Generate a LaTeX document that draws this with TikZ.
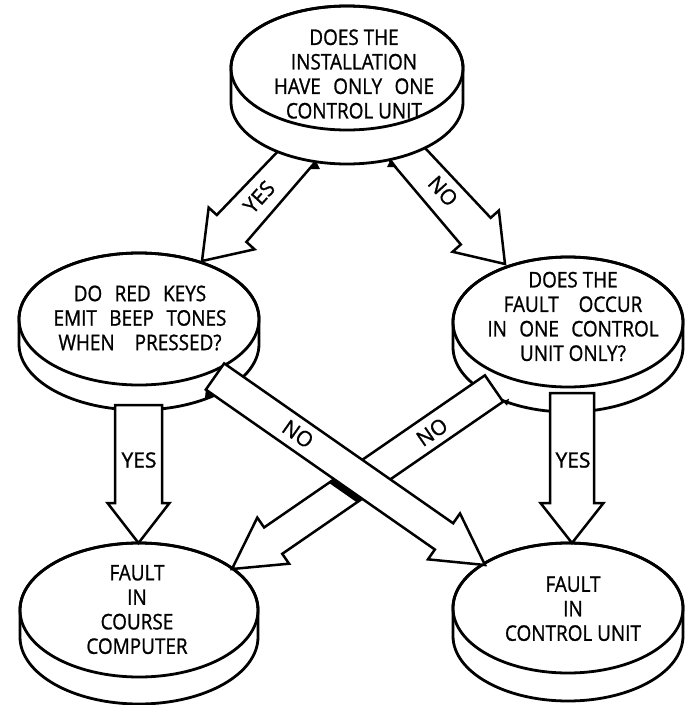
\documentclass[tikz,border=0pt]{standalone}
\usepackage{fontspec}
\setmainfont{Open Sans}[FakeStretch=0.88, FakeBold=1.0]
\newfontfamily\lblfont{Open Sans}[FakeBold=1.2]
\usetikzlibrary{calc}
\tikzset{
  discline/.style={line width=2.8pt, line join=round},
  barrow/.style={line width=2.5pt, fill=white, line join=miter, miter limit=6},
  disctext/.style={align=center, font=\fontsize{21.5}{24.5}\selectfont, inner sep=0pt},
  lbl/.style={font=\lblfont\fontsize{21}{21}\selectfont, inner sep=0pt},
  shadow/.style={fill=black},
}
% #1 name, #2 start, #3 tip, #4 half shaft at head, #5 half head, #6 head length, #7 half shaft at start
\newcommand\defarrow[7]{%
  \coordinate (#1-t) at (#3);
  \coordinate (#1-b) at ($(#3)!#6!(#2)$);
  \coordinate (#1-sl) at ($(#2)!#7!90:(#3)$);
  \coordinate (#1-sr) at ($(#2)!#7!-90:(#3)$);
  \coordinate (#1-bl) at ($(#1-b)!#4!90:(#3)$);
  \coordinate (#1-br) at ($(#1-b)!#4!-90:(#3)$);
  \coordinate (#1-hl) at ($(#1-b)!#5!90:(#3)$);
  \coordinate (#1-hr) at ($(#1-b)!#5!-90:(#3)$);
}
\newcommand\arrowpath[1]{(#1-sl) -- (#1-bl) -- (#1-hl) -- (#1-t) -- (#1-hr) -- (#1-br) -- (#1-sr) -- cycle}
% cx, cy, rx, ry, thickness
\newcommand\drawdisc[5]{%
  \filldraw[discline, fill=white] (#1-#3,#2) -- (#1-#3,#2+#5)
    arc[start angle=180, end angle=360, x radius=#3pt, y radius=#4pt]
    -- (#1+#3,#2)
    arc[start angle=0, end angle=180, x radius=#3pt, y radius=#4pt] -- cycle;
  \draw[discline] (#1,#2) ellipse[x radius=#3pt, y radius=#4pt];
}
\newcommand\wsp{\hspace{0.35em}}
\begin{document}
\begin{tikzpicture}[x=1pt,y=-1pt]
\useasboundingbox (0,0) rectangle (686,705);
\fill[white] (0,0) rectangle (686,705);

% lower discs
\drawdisc{139}{319}{120}{66}{25}
\drawdisc{568}{322}{115}{65}{25}
\drawdisc{139}{610}{119}{67}{27}
\drawdisc{568}{608}{115}{65}{28}

% arrow end points
\coordinate (yesS) at (333,117);   \coordinate (yesE) at (202,261);
\coordinate (noS)  at (374,117);   \coordinate (noE)  at (505,264);
\coordinate (ylS)  at (138.5,405); \coordinate (ylE)  at (138.5,543);
\coordinate (yrS)  at (572,393);   \coordinate (yrE)  at (572,543);
\coordinate (aS)   at (215,376.5); \coordinate (aE)   at (485,565);
\coordinate (bS)   at (494,388.5); \coordinate (bE)   at (232,569);

\defarrow{Y1}{yesS}{yesE}{20pt}{31pt}{44pt}{16pt}
\defarrow{N1}{noS}{noE}{20pt}{31pt}{44pt}{16pt}
\defarrow{Y2}{ylS}{ylE}{23.5pt}{31pt}{40pt}{23.5pt}
\defarrow{Y3}{yrS}{yrE}{22pt}{31.5pt}{40pt}{22pt}
\defarrow{A}{aS}{aE}{16pt}{28pt}{50pt}{16pt}
\defarrow{B}{bS}{bE}{16pt}{28pt}{50pt}{16pt}

% crossing NO arrows: B below A
\draw[barrow] \arrowpath{B};
\begin{scope}
  \clip \arrowpath{B};
  \draw[line width=12pt] (A-sr) -- (A-br);
\end{scope}
\draw[barrow] \arrowpath{A};
\fill[shadow] (A-sr) -- ($(A-sr)+(-1,10)$) -- ($(A-sr)+(9,6.4)$) -- cycle;
\fill[shadow] (B-sl) -- ($(B-sl)+(6,-3)$) -- ($(B-sl)+(4,4)$) -- cycle;

% vertical YES arrows
\draw[barrow] \arrowpath{Y2};
\draw[barrow] \arrowpath{Y3};

% top arrows (under the top disc)
\draw[barrow] \arrowpath{Y1};
\draw[barrow] \arrowpath{N1};

% top disc
\drawdisc{347}{68}{116}{62}{34}
\fill[shadow] (316,161) -- (310,169) -- (320,169) -- cycle;
\fill[shadow] (391,159) -- (397,167) -- (387,167) -- cycle;

% texts
\node[disctext] (q1) at (354,74) {DOES THE\\INSTALLATION\\HAVE\wsp{} ONLY\wsp{} ONE\\CONTROL UNIT};
\node[disctext] (q2) at (140,318) {DO\wsp{} RED\wsp{} KEYS\\EMIT\wsp{} BEEP\wsp{} TONES\\WHEN\wsp\wsp{} PRESSED?};
\node[disctext] (q3) at (573,316.5) {DOES THE\\FAULT\wsp\wsp{} OCCUR\\IN\wsp{} ONE\wsp{} CONTROL\\UNIT ONLY?};
\node[disctext] (r1) at (137,609.5) {FAULT\\IN\\COURSE\\COMPUTER};
\node[disctext] (r2) at (573,608.7) {FAULT\\IN\\CONTROL UNIT};

% arrow labels
\node[lbl, rotate=47.7]  (lyes1) at (259,197) {YES};
\node[lbl, rotate=-47.7] (lno1)  at (443,191) {NO};
\node[lbl]               (lyes2) at (139,460) {YES};
\node[lbl]               (lyes3) at (573,460) {YES};
\node[lbl, rotate=-35.2] (lnoA)  at (298,434) {NO};
\node[lbl, rotate=34.6]  (lnoB)  at (432,432) {NO};
\end{tikzpicture}
\end{document}
